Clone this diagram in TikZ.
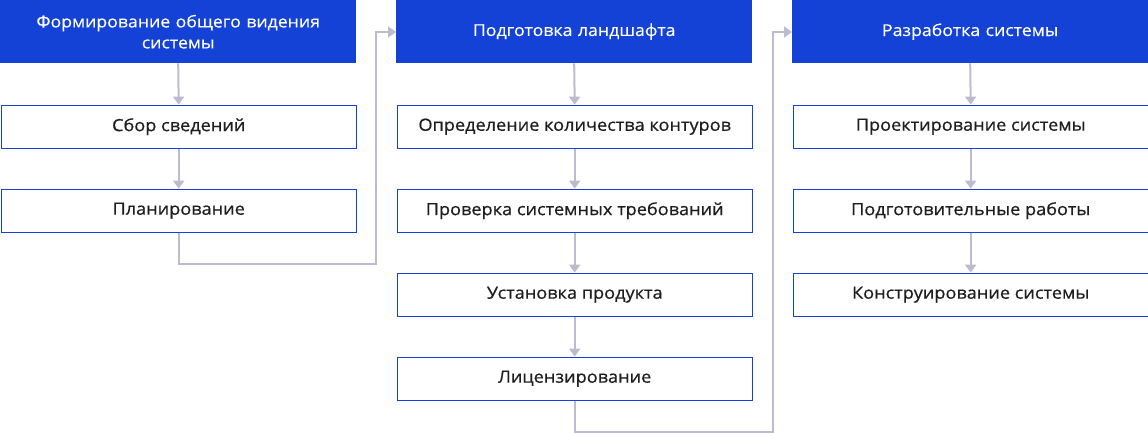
\documentclass[tikz,border=0pt]{standalone}
\usepackage{fontspec}
\setmainfont{Open Sans}[FakeStretch=1.08]
\newfontfamily\bodyfont{Open Sans}[FakeStretch=1.08,FakeBold=0.6]
\newfontfamily\hdrfont{Open Sans}[FakeStretch=1.08,FakeBold=0.3]
\usetikzlibrary{arrows.meta}
\definecolor{hdrblue}{HTML}{1441D6}
\definecolor{linegray}{HTML}{BDBCCF}
\definecolor{txt}{HTML}{1E1E1E}
\tikzset{
  x=1pt,y=-1pt,
  hdr/.style={fill=hdrblue,draw=none,text=white,minimum width=356pt,minimum height=63pt,inner sep=0pt,anchor=north west,align=center,font=\hdrfont\fontsize{16.4}{21}\selectfont,text width=340pt},
  stepbox/.style={fill=white,draw=hdrblue,line width=1.2pt,text=txt,minimum width=355pt,minimum height=43pt,inner sep=0pt,anchor=north west,align=center,font=\bodyfont\fontsize{16.8}{21}\selectfont},
  conn/.style={draw=linegray,line width=2pt,-{Triangle[width=11pt,length=8pt]}},
}
\begin{document}
\begin{tikzpicture}
\useasboundingbox (0,0) rectangle (1148,433);
% column 1
\node[hdr] (h1) at (0,0) {Формирование общего видения\\системы};
\node[stepbox] (a1) at (0.6,104.6) {Сбор сведений};
\node[stepbox] (a2) at (0.6,188.6) {Планирование};
% column 2
\node[hdr] (h2) at (396,0) {Подготовка ландшафта};
\node[stepbox] (b1) at (396.6,104.6) {Определение количества контуров};
\node[stepbox] (b2) at (396.6,188.6) {Проверка системных требований};
\node[stepbox] (b3) at (396.6,272.6) {Установка продукта};
\node[stepbox] (b4) at (396.6,356.6) {Лицензирование};
% column 3
\node[hdr] (h3) at (792,0) {Разработка системы};
\node[stepbox] (c1) at (792.6,104.6) {Проектирование системы};
\node[stepbox] (c2) at (792.6,188.6) {Подготовительные работы};
\node[stepbox] (c3) at (792.6,272.6) {Конструирование системы};
% connectors
\draw[conn] (h1.south) -- (a1.north);
\draw[conn] (a1.south) -- (a2.north);
\draw[conn] (h2.south) -- (b1.north);
\draw[conn] (b1.south) -- (b2.north);
\draw[conn] (b2.south) -- (b3.north);
\draw[conn] (b3.south) -- (b4.north);
\draw[conn] (h3.south) -- (c1.north);
\draw[conn] (c1.south) -- (c2.north);
\draw[conn] (c2.south) -- (c3.north);
\draw[conn] (a2.south) -- (a2.south |- 0,264) -- (376,264) -- (376,32) -- (h2.west |- 0,32);
\draw[conn] (b4.south) -- (b4.south |- 0,432) -- (773,432) -- (773,32) -- (h3.west |- 0,32);
\end{tikzpicture}
\end{document}
